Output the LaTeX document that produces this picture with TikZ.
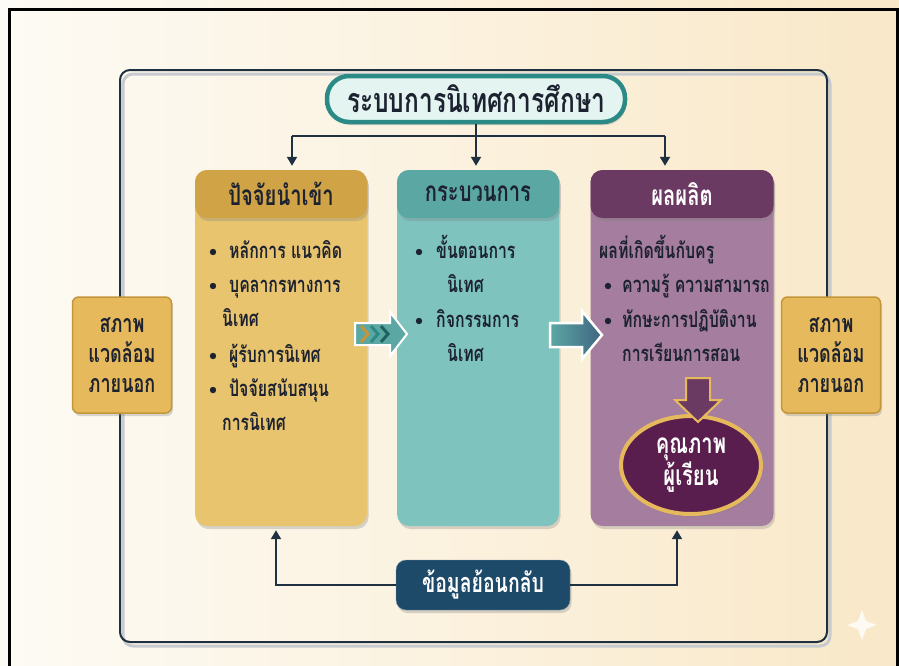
\documentclass[tikz,border=0pt]{standalone}
\usepackage{fontspec}
\setmainfont{Loma}[Script=Thai,FakeStretch=0.72]
\usetikzlibrary{arrows.meta,shapes.geometric,shadows}
\definecolor{bgl}{HTML}{FDFBF5}
\definecolor{bgr}{HTML}{F9E8C8}
\definecolor{lnc}{HTML}{1F3040}
\definecolor{ink}{HTML}{1C2230}
\definecolor{tealbd}{HTML}{2B8A85}
\definecolor{tealfl}{HTML}{E4F4F1}
\definecolor{inbody}{HTML}{E8C46E}
\definecolor{inhead}{HTML}{D0A347}
\definecolor{prbody}{HTML}{7EC3BE}
\definecolor{prhead}{HTML}{5BA7A4}
\definecolor{oubody}{HTML}{A57D9E}
\definecolor{ouhead}{HTML}{6B3A63}
\definecolor{gold}{HTML}{E6BA5C}
\definecolor{golddk}{HTML}{C4963A}
\definecolor{navy}{HTML}{1E4A6A}
\definecolor{plum}{HTML}{5A1E4E}
\begin{document}
\begin{tikzpicture}[x=1pt,y=-1pt,every node/.style={inner sep=0pt,font=\bfseries,text=ink},
 ln/.style={draw=lnc,line width=2pt},
 arr/.style={ln,-{Triangle[width=10pt,length=9pt]},shorten >=4pt},
 shd/.style={drop shadow={opacity=.3,shadow xshift=1.5pt,shadow yshift=-3pt}},
 body/.style={shd,rounded corners=12pt,minimum width=#1,minimum height=356},
 head/.style={shd,rounded corners=12pt,minimum width=#1,minimum height=48,font=\bfseries\fontsize{28}{30}\selectfont},
 item/.style={anchor=base west,font=\bfseries\fontsize{22}{24}\selectfont},
 side/.style={shd,fill=gold,draw=golddk,line width=1.5pt,rounded corners=6pt,minimum width=99,minimum height=116,align=center,font=\bfseries\fontsize{25}{30}\selectfont},
 dot/.style={fill=ink}]
\useasboundingbox (0,0) rectangle (899,665);
\shade[left color=bgl,right color=bgr] (0,0) rectangle (899,665);
\draw[line width=3pt,black] (9,670) -- (9,9) -- (897,9) -- (897,670);
\draw[lnc!25,line width=3pt,rounded corners=10pt] (123,74) rectangle (830,646);
\draw[lnc,line width=2pt,rounded corners=10pt] (120,70) rectangle (827,642);
\node[shd,fill=tealfl,draw=tealbd,line width=4.5pt,rounded corners=22pt,minimum width=298,minimum height=46,font=\bfseries\fontsize{34}{36}\selectfont] (title) at (476,99) {ระบบการนิเทศการศึกษา};
\node[side] (envl) at (122,355) {สภาพ\\แวดล้อม\\ภายนอก};
\node[side] (envr) at (831,355) {สภาพ\\แวดล้อม\\ภายนอก};
\node[body=172,fill=inbody] (inp) at (281,348) {};
\node[head=172,fill=inhead] (inph) at (281,194) {ปัจจัยนำเข้า};
\node[body=162,fill=prbody] (proc) at (478,348) {};
\node[head=162,fill=prhead] (proch) at (478,194) {กระบวนการ};
\node[body=183,fill=oubody] (outp) at (682,348) {};
\node[head=183,fill=ouhead,text=white] (outph) at (682,194) {ผลผลิต};
\node[item] (i1) at (229,258) {หลักการ แนวคิด};
\node[item] (i2) at (229,292) {บุคลากรทางการ};
\node[item] (i3) at (222,326) {นิเทศ};
\node[item] (i4) at (229,362) {ผู้รับการนิเทศ};
\node[item] (i5) at (229,396) {ปัจจัยสนับสนุน};
\node[item] (i6) at (222,430) {การนิเทศ};
\foreach \y in {252,286,356,390} \fill[dot] (213,\y) circle (3.2);
\node[item] (p1) at (436,258) {ขั้นตอนการ};
\node[item] (p2) at (447,292) {นิเทศ};
\node[item] (p3) at (436,327) {กิจกรรมการ};
\node[item] (p4) at (447,361) {นิเทศ};
\foreach \y in {252,321} \fill[dot] (419,\y) circle (3.2);
\node[item] (o0) at (599,258) {ผลที่เกิดขึ้นกับครู};
\node[item] (o1) at (622,292) {ความรู้ ความสามารถ};
\node[item] (o2) at (622,327) {ทักษะการปฏิบัติงาน};
\node[item] (o3) at (622,361) {การเรียนการสอน};
\foreach \y in {286,321} \fill[dot] (608,\y) circle (3.2);
\node[ellipse,shd,fill=plum,draw=gold,line width=4pt,minimum width=140,minimum height=98,align=center,text=white,font=\bfseries\fontsize{28}{32}\selectfont] (qual) at (691,465) {คุณภาพ\\ผู้เรียน};
\draw[fill=ouhead,draw=gold,line width=2pt] (686,378) -- (710,378) -- (710,400) -- (721,400) -- (698,422) -- (675,400) -- (686,400) -- cycle;
\draw[draw=white,line width=2pt,fill=prhead] (355,323) -- (390,323) -- (390,312) -- (407,334) -- (390,356) -- (390,345) -- (355,345) -- cycle;
\draw[line width=3pt,golddk] (361,326) -- (368,334) -- (361,342);
\draw[line width=3pt,tealbd] (371,326) -- (378,334) -- (371,342);
\draw[line width=3pt,tealbd!70!black] (381,326) -- (388,334) -- (381,342);
\shadedraw[left color=prhead,right color=navy!85,draw=white,line width=2.5pt] (550,323) -- (582,323) -- (582,311) -- (602,335) -- (582,359) -- (582,347) -- (550,347) -- cycle;
\node[shd,fill=navy,draw=navy!60,rounded corners=10pt,minimum width=174,minimum height=50,text=white,font=\bfseries\fontsize{27}{30}\selectfont] (fb) at (483,585) {ข้อมูลย้อนกลับ};
\coordinate (t1) at (292,136);
\coordinate (t2) at (476,136);
\coordinate (t3) at (665,136);
\draw[ln] (title.south) -- (t2);
\draw[ln] (t1) -- (t3);
\foreach \t/\c in {t1/inp,t2/proc,t3/outp} \draw[arr] (\t) -- (\t |- \c.north);
\coordinate (f1) at (276,585);
\coordinate (f3) at (677,585);
\draw[arr] (fb.west) -- (f1) -- (f1 |- inp.south);
\draw[arr] (fb.east) -- (f3) -- (f3 |- outp.south);
\fill[white,opacity=.8] (862,610) -- (866,621) -- (877,625) -- (866,629) -- (862,640) -- (858,629) -- (847,625) -- (858,621) -- cycle;
\end{tikzpicture}
\end{document}
